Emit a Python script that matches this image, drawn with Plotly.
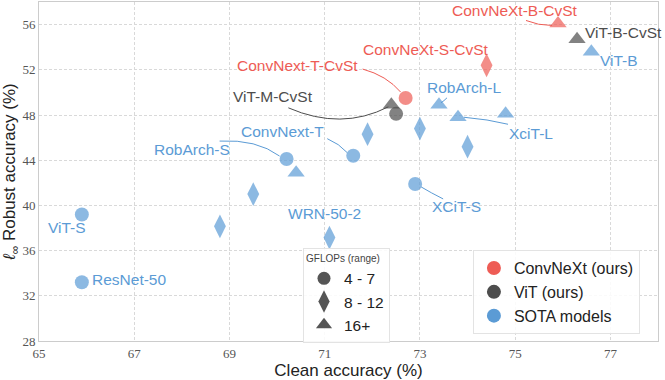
import plotly.graph_objects as go

# model results (clean / l-inf robust accuracy, %)
names = ["ConvNeXt-B-CvSt", "ConvNeXt-S-CvSt", "ConvNext-T-CvSt",
         "ViT-B-CvSt", "ViT-M-CvSt", "ViT-S-CvSt",
         "ViT-B", "RobArch-L", "XciT-L", "XCiT-M", "ConvNeXt-B", "Swin-B", "ConvNeXt-S",
         "ConvNext-T", "RobArch-S", "RobArch-M", "Swin-S", "XCiT-S", "ResNet-101",
         "WRN-50-2", "ViT-S", "ResNet-50"]
clean = [75.9, 74.4, 72.7,
         76.3, 72.4, 72.5,
         76.6, 73.4, 73.8, 74.8, 71.9, 73.0, 74.0,
         71.6, 70.2, 70.4, 69.5, 72.9, 68.8,
         71.1, 65.9, 65.9]
robust = [56.1, 52.4, 49.5,
          54.7, 48.9, 48.1,
          53.6, 48.9, 47.8, 48.1, 46.3, 46.8, 45.2,
          44.4, 44.1, 42.9, 41.0, 41.9, 38.15,
          37.15, 39.2, 33.2]
gflops = ["16+", "8 - 12", "4 - 7",
          "16+", "16+", "4 - 7",
          "16+", "16+", "16+", "16+", "8 - 12", "8 - 12", "8 - 12",
          "4 - 7", "4 - 7", "16+", "8 - 12", "4 - 7", "8 - 12",
          "8 - 12", "4 - 7", "4 - 7"]
family = ["ConvNeXt (ours)"] * 3 + ["ViT (ours)"] * 3 + ["SOTA models"] * 16

# which points carry a text label
labelled = ["ConvNeXt-B-CvSt", "ViT-B-CvSt", "ViT-B", "ConvNeXt-S-CvSt", "ConvNext-T-CvSt",
            "ViT-M-CvSt", "RobArch-L", "XciT-L", "ConvNext-T", "RobArch-S", "XCiT-S",
            "WRN-50-2", "ViT-S", "ResNet-50"]

flop_groups = ["4 - 7", "8 - 12", "16+"]
families = ["ConvNeXt (ours)", "ViT (ours)", "SOTA models"]

colors = {"ConvNeXt (ours)": "#EE5C55", "ViT (ours)": "#4D4D4D", "SOTA models": "#5B9BD5"}
symbols = {"4 - 7": "circle", "8 - 12": "diamond-tall", "16+": "triangle-up"}
sizes = {"4 - 7": 14, "8 - 12": 17, "16+": 15}

# label offsets in px (dx right, dy up) and leader paths in px (dx right, dy down)
label_pos = {
    "ConvNeXt-B-CvSt": (-43, 13), "ViT-B-CvSt": (46, 7), "ViT-B": (28, -9),
    "ConvNeXt-S-CvSt": (-61, 16), "ConvNext-T-CvSt": (-108, 33), "ViT-M-CvSt": (-118, 8),
    "RobArch-L": (25, 17), "XciT-L": (73, -16), "ConvNext-T": (-71, 24),
    "RobArch-S": (-95, 10), "XCiT-S": (41, -23), "WRN-50-2": (-5, 24),
    "ViT-S": (-15, -13), "ResNet-50": (47, 3),
}
leaders = {
    "ConvNeXt-B-CvSt": [(-32, -3), (-20, 2), (-6, 2)],
    "ConvNext-T-CvSt": [(-43, -29), (-19, -22.5), (-5, -6)],
    "ViT-M-CvSt": [(-103, 3), (-50, 26), (-3, 2)],
    "RobArch-L": [(8, -7), (5, -4), (2, -2)],
    "XciT-L": [(6, 0), (30, 2), (50, 7)],
    "ConvNext-T": [(-26, -17), (-14, -12), (-6, -3)],
    "RobArch-S": [(-67, -18), (-30, -20), (-7, -3)],
    "XCiT-S": [(6, 3), (16, 9), (28, 15)],
}

fig = go.Figure()

for fam in families:
    idx = [i for i, f in enumerate(family) if f == fam]
    fig.add_trace(go.Scatter(
        x=[clean[i] for i in idx], y=[robust[i] for i in idx], mode="markers",
        marker=dict(color=colors[fam], symbol=[symbols[gflops[i]] for i in idx],
                    size=[sizes[gflops[i]] for i in idx], line=dict(width=0)),
        showlegend=False, hoverinfo="text", text=[names[i] for i in idx]))

# legend: GFLOPs shape key
for g in flop_groups:
    fig.add_trace(go.Scatter(x=[None], y=[None], mode="markers", name=g, legend="legend",
                             marker=dict(color="#555555", symbol=symbols[g], size=sizes[g] - 1)))
# legend: model family colour key
for fam in families:
    fig.add_trace(go.Scatter(x=[None], y=[None], mode="markers", name=fam, legend="legend2",
                             marker=dict(color=colors[fam], symbol="circle", size=14)))

for n in labelled:
    i = names.index(n)
    c = colors[family[i]]
    dx, dy = label_pos[n]
    fig.add_annotation(x=clean[i], y=robust[i], text=n, showarrow=False,
                       xshift=dx, yshift=dy, xanchor="center", yanchor="middle",
                       font=dict(family="Liberation Sans", size=15.5, color=c))
    if n in leaders:
        (x0, y0), (cx, cy), (x1, y1) = leaders[n]
        fig.add_shape(type="path", xref="x", yref="y", xsizemode="pixel", ysizemode="pixel",
                      xanchor=clean[i], yanchor=robust[i], layer="between",
                      path=f"M{x0},{-y0} Q{cx},{-cy} {x1},{-y1}",
                      line=dict(color=c, width=1))

axis_common = dict(showgrid=True, gridcolor="#d9d9d9", griddash="3px,2px", gridwidth=1,
                   showline=True, linecolor="#cccccc", linewidth=1, mirror=True,
                   zeroline=False, ticks="",
                   tickfont=dict(family="Liberation Serif", size=13, color="#555555"))

fig.update_layout(
    width=665, height=380,
    margin=dict(l=39, r=7, t=2, b=39),
    paper_bgcolor="white", plot_bgcolor="white",
    font=dict(family="Liberation Sans"),
    xaxis=dict(range=[65, 78], tickvals=[65, 67, 69, 71, 73, 75, 77],
               title=dict(text="Clean accuracy (%)", font=dict(size=17, color="#222222"),
                          standoff=2),
               **axis_common),
    yaxis=dict(range=[28, 58], tickvals=[28, 32, 36, 40, 44, 48, 52, 56],
               title=dict(text="<i>ℓ</i><sub>∞</sub> Robust accuracy (%)",
                          font=dict(size=17, color="#222222"), standoff=4),
               **axis_common),
    legend=dict(x=0.4265, y=0.275, xanchor="left", yanchor="top",
                title=dict(text="GFLOPs (range)", font=dict(size=10, color="#444444"),
                           side="top"),
                font=dict(size=15.5, color="#222222"),
                bgcolor="rgba(255,255,255,0.85)", bordercolor="#e3e3e3", borderwidth=1),
    legend2=dict(x=0.701, y=0.268, xanchor="left", yanchor="top",
                 font=dict(size=16, color="#222222"),
                 bgcolor="rgba(255,255,255,0.85)", bordercolor="#e3e3e3", borderwidth=1),
)

# page body has a default 8px margin; drop it so the figure sits at the window corner
fig.write_html("out.html", config={"displayModeBar": False},
               post_script="document.body.style.margin='0px';")
